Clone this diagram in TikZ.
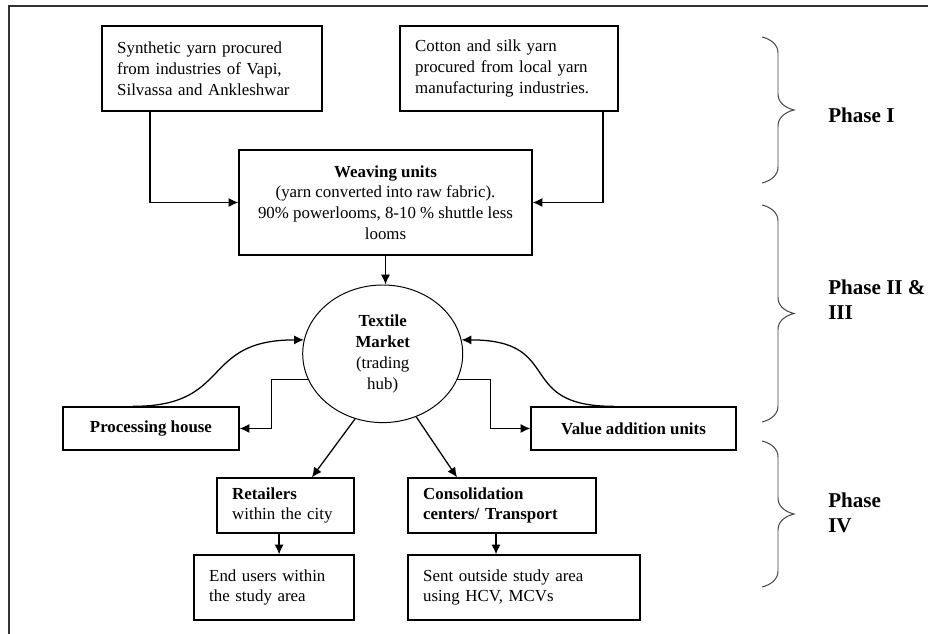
\documentclass[tikz,border=0pt]{standalone}
\usepackage{fontspec}
\setmainfont{Liberation Serif}
\usetikzlibrary{shapes.geometric,decorations.pathreplacing,arrows.meta}

\begin{document}
\begin{tikzpicture}[
            box/.style={
                    draw,
                    line width=0.9pt,
                    inner xsep=0.38cm,
                    inner ysep=0pt,
                    align=left,
                    font=\fontsize{12}{14.8}\selectfont
                },
            cbox/.style={
                    draw,
                    line width=0.9pt,
                    inner sep=0pt,
                    align=center,
                    font=\fontsize{12}{14.8}\selectfont
                },
            hub/.style={
                    draw,
                    ellipse,
                    line width=0.7pt,
                    inner sep=0pt,
                    minimum width=4cm,
                    minimum height=3.44cm,
                    align=center,
                    font=\fontsize{12}{14.8}\selectfont
                },
            arr/.style={
                    line width=0.9pt,
                    -{Latex[length=7pt,width=6.5pt]}
                },
            phase/.style={
                    decorate,
                    decoration={brace,amplitude=0.4cm,transform={yscale=2}},
                    line width=0.7pt,
                    black!75
                },
            plabel/.style={
                    anchor=west,
                    inner sep=0pt,
                    align=left,
                    font=\bfseries\fontsize{15}{17.7}\selectfont
                }
        ]
        \useasboundingbox (0,0) rectangle (23.2,15.85);
        \draw[line width=0.9pt,black!80] (0.225,0) -- (0.225,15.7) -- (23.2,15.7);

        \node[box,text width=4.74cm,minimum height=2.125cm] (syn) at (5.3,14.1375)
        {Synthetic yarn procured\\from industries of Vapi,\\Silvassa and Ankleshwar};
        \node[box,text width=4.69cm,minimum height=2.125cm] (cot) at (12.725,14.1375)
        {Cotton and silk yarn\\procured from local yarn\\manufacturing industries.};
        \node[cbox,minimum width=7.325cm,minimum height=2.625cm] (weave) at (9.6375,10.7875)
        {\textbf{Weaving units}\\(yarn converted into raw fabric).\\90\% powerlooms, 8-10 \% shuttle less\\looms};
        \node[hub] (mkt) at (9.5675,7.005)
        {\textbf{Textile}\\\textbf{Market}\\(trading\\hub)};
        \node[cbox,minimum width=4.4cm,minimum height=1.075cm] (proc) at (3.775,5.1375)
        {\textbf{Processing house}};
        \node[cbox,minimum width=5.125cm,minimum height=1.075cm] (val) at (15.8375,5.1375)
        {\textbf{Value addition units}};
        \node[box,text width=2.665cm,minimum height=1.375cm] (ret) at (7.1375,3.2125)
        {\textbf{Retailers}\\within the city};
        \node[box,text width=3.94cm,minimum height=1.375cm] (cons) at (12.55,3.2125)
        {\textbf{Consolidation}\\\textbf{centers/ Transport}};
        \node[box,text width=3.24cm,minimum height=1.625cm] (end) at (6.85,1.1625)
        {End users within\\the study area};
        \node[box,text width=5.04cm,minimum height=1.625cm] (sent) at (13.1,1.1625)
        {Sent outside study area\\using HCV, MCVs};

        \draw[arr] ([xshift=-1.55cm]syn.south) |- (weave.west);
        \draw[arr] ([xshift=2.35cm]cot.south) |- (weave.east);
        \draw[arr] (weave.south) -- (weave.south |- mkt.north);
        \draw[arr] (mkt.199) -| ([xshift=0.8cm]proc.east) -- (proc.east);
        \draw[arr] (mkt.341) -| ([xshift=-1cm]val.west) -- (val.west);
        \draw[arr] ([xshift=-0.45cm]proc.north) .. controls +(2.5,0) and +(-2.6,0) .. (mkt.170);
        \draw[arr] ([xshift=-0.5cm]val.north) .. controls +(-2.5,0) and +(2.6,0) .. (mkt.10);
        \draw[arr] (mkt.247) -- ([xshift=0.66cm]ret.north);
        \draw[arr] (mkt.298) -- ([xshift=-1.125cm]cons.north);
        \draw[arr] ([xshift=-0.16cm]ret.south) -- ([xshift=-0.16cm]ret.south |- end.north);
        \draw[arr] ([xshift=-0.15cm]cons.south) -- ([xshift=-0.15cm]cons.south |- sent.north);

        \draw[phase] (19.05,14.925) -- (19.05,11.275);
        \draw[phase] (19.05,10.725) -- (19.05,5.3);
        \draw[phase] (19.05,4.825) -- (19.05,1.175);
        \node[plabel] (p1) at (20.7,12.975) {Phase I};
        \node[plabel] (p23) at (20.7,8.35) {Phase II \&\\III};
        \node[plabel] (p4) at (20.7,3.0375) {Phase\\IV};
    \end{tikzpicture}
\end{document}
